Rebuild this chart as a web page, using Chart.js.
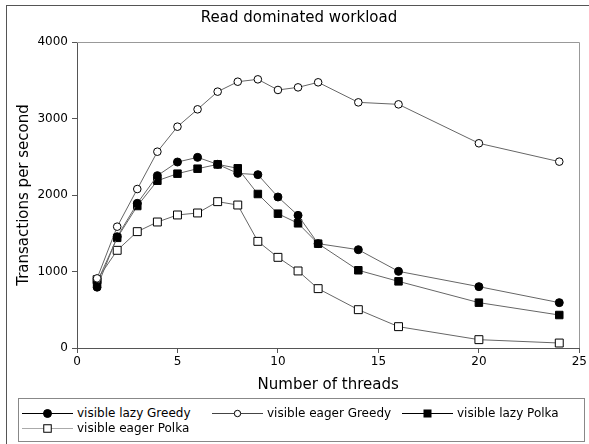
<!DOCTYPE html>
<html><head><meta charset="utf-8">
<script src="https://cdn.jsdelivr.net/npm/chart.js@4/dist/chart.umd.min.js"></script>
<style>
html,body{margin:0;padding:0;background:#fff;overflow:hidden}
#wrap{position:relative;width:589px;height:444px;overflow:hidden;font-family:"DejaVu Sans",sans-serif;background:#fff}
#frame{position:absolute;left:6px;top:5px;width:700px;height:600px;border:1px solid #555;box-sizing:border-box;pointer-events:none}
canvas{position:absolute;left:0;top:0}
#legend{position:absolute;left:18px;top:398px;width:567px;height:44px;border:1px solid #888;box-sizing:border-box;font-size:12px;color:#000;background:#fff}
.row{position:absolute;left:3px;height:15px;display:flex;align-items:center;white-space:nowrap}
.item{display:flex;align-items:center;flex:none}
.item svg{display:block;margin-right:4px}
</style></head>
<body>
<div id="wrap">
<canvas id="c" width="589" height="444"></canvas>
<div id="frame"></div>
<div id="legend"></div>
</div>
<script>
const threads = [1,2,3,4,5,6,7,8,9,10,11,12,14,16,20,24];
const lazyGreedy  = [795,1455,1891,2253,2431,2492,2401,2283,2266,1974,1734,1364,1285,1002,802,593];
const eagerGreedy = [910,1586,2078,2566,2893,3120,3351,3481,3512,3373,3407,3473,3211,3185,2676,2436];
const lazyPolka   = [860,1440,1856,2187,2279,2344,2400,2349,2013,1756,1630,1364,1016,871,593,431];
const eagerPolka  = [893,1277,1521,1647,1739,1765,1913,1869,1394,1185,1007,776,501,279,109,65];
const seriesNames = ["visible lazy Greedy","visible eager Greedy","visible lazy Polka","visible eager Polka"];
const xTicks = [0,5,10,15,20,25];
const yTicks = [0,1000,2000,3000,4000];

const FONT = "'DejaVu Sans', sans-serif";
const styles = [
  {style:'circle', r:4,   fill:'#000', legendLine:'#000'},
  {style:'circle', r:3.8, fill:'#fff', legendLine:'#444'},
  {style:'rect',   r:5.3, fill:'#000', legendLine:'#000'},
  {style:'rect',   r:5.6, fill:'#fff', legendLine:'#aaa'}
];
const values = [lazyGreedy, eagerGreedy, lazyPolka, eagerPolka];

const datasets = values.map((v,i)=>({
  label: seriesNames[i],
  data: threads.map((t,j)=>({x:t, y:v[j]})),
  borderColor:'#666',
  borderWidth:1,
  pointStyle: styles[i].style,
  pointRadius: styles[i].r,
  pointBackgroundColor: styles[i].fill,
  pointBorderColor:'#000',
  pointBorderWidth:1,
  tension:0,
  fill:false
}));

const boxPlugin = {
  id:'box',
  beforeDatasetsDraw(chart){
    const a = chart.chartArea, ctx = chart.ctx;
    ctx.save();
    ctx.strokeStyle = '#999';
    ctx.lineWidth = 1;
    ctx.beginPath();
    ctx.moveTo(a.left, a.top + 0.5);
    ctx.lineTo(Math.round(a.right) + 0.5, a.top + 0.5);
    ctx.lineTo(Math.round(a.right) + 0.5, a.bottom);
    ctx.stroke();
    ctx.restore();
  }
};

new Chart(document.getElementById('c'), {
  type:'line',
  data:{datasets},
  plugins:[boxPlugin],
  options:{
    responsive:false,
    animation:false,
    devicePixelRatio:1,
    layout:{padding:{left:11,right:2,top:0,bottom:46}},
    plugins:{
      legend:{display:false},
      tooltip:{enabled:false},
      title:{display:true,text:'Read dominated workload',color:'#000',
        font:{family:FONT,size:15,weight:'normal'},padding:{top:9,bottom:15}}
    },
    scales:{
      x:{type:'linear',min:0,max:25,
        afterBuildTicks(s){ s.ticks = xTicks.map(v=>({value:v})); },
        afterFit(s){ s.height = 50; },
        grid:{display:true,drawOnChartArea:false,tickLength:5,color:'#555'},
        border:{color:'#555'},
        ticks:{color:'#000',font:{family:FONT,size:12},padding:2,maxRotation:0,callback:v=>String(v)},
        title:{display:true,text:'Number of threads',color:'#000',font:{family:FONT,size:15},padding:{top:4,bottom:4}}
      },
      y:{type:'linear',min:0,max:4000,
        afterBuildTicks(s){ s.ticks = yTicks.map(v=>({value:v})); },
        afterFit(s){ s.width = 66; },
        grid:{display:true,drawOnChartArea:false,tickLength:5,color:'#555'},
        border:{color:'#555'},
        ticks:{color:'#000',font:{family:FONT,size:12},padding:4,callback:v=>String(v)},
        title:{display:true,text:'Transactions per second',color:'#000',font:{family:FONT,size:15},padding:{top:4,bottom:4}}
      }
    }
  }
});

// legend
function markerSvg(i){
  const s = styles[i];
  const ns='http://www.w3.org/2000/svg';
  const svg=document.createElementNS(ns,'svg');
  svg.setAttribute('width','51');svg.setAttribute('height','12');
  const line=document.createElementNS(ns,'line');
  line.setAttribute('x1','0');line.setAttribute('x2','51');line.setAttribute('y1','6.5');line.setAttribute('y2','6.5');
  line.setAttribute('stroke',s.legendLine);line.setAttribute('stroke-width','1');
  svg.appendChild(line);
  let m;
  if(s.style==='circle'){
    m=document.createElementNS(ns,'circle');
    m.setAttribute('cx','25.5');m.setAttribute('cy','6.5');m.setAttribute('r', s.fill==='#000'?'4':'3.2');
  } else {
    m=document.createElementNS(ns,'rect');
    const side = s.fill==='#000'?7:7.5;
    m.setAttribute('x',String(25.5-side/2));m.setAttribute('y',String(6.5-side/2));
    m.setAttribute('width',String(side));m.setAttribute('height',String(side));
  }
  m.setAttribute('fill',s.fill);m.setAttribute('stroke','#000');m.setAttribute('stroke-width','1');
  svg.appendChild(m);
  return svg;
}
const legend=document.getElementById('legend');
const rows=[[0,1,2],[3]];
rows.forEach((r,ri)=>{
  const row=document.createElement('div');row.className='row';
  row.style.top=(ri===0?6:21)+'px';
  r.forEach((i,k)=>{
    const it=document.createElement('div');it.className='item';
    it.style.width='190px';
    it.appendChild(markerSvg(i));
    const t=document.createElement('span');t.textContent=seriesNames[i];
    it.appendChild(t);row.appendChild(it);
  });
  legend.appendChild(row);
});
</script>
</body></html>
